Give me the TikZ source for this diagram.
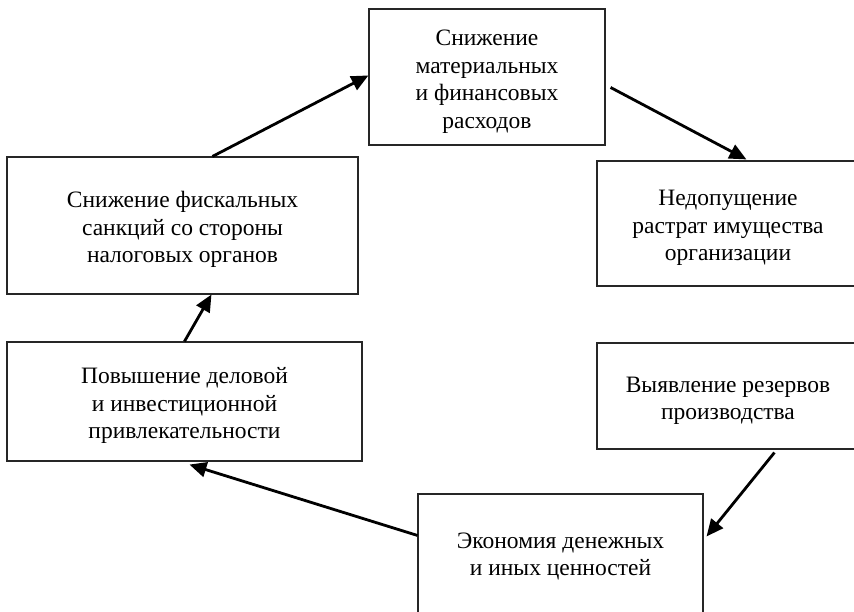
\documentclass[tikz,border=0pt]{standalone}
\usepackage{fontspec}
\setmainfont{Liberation Serif}
\usetikzlibrary{arrows.meta}
\newcommand{\topstrut}{\rule{0pt}{25pt}}
\tikzset{
  box/.style={draw=black!85, line width=1.1pt, rectangle, align=center,
    inner sep=0pt, font=\fontsize{23.5}{27.5}\selectfont},
  conn/.style={line width=2.8pt, -{Triangle[length=17pt,width=15pt]}}
}
\begin{document}
\begin{tikzpicture}[x=1pt,y=-1pt]
\clip (0,0) rectangle (854,612);
\fill[white] (0,0) rectangle (854,612);
\node[box, minimum width=236pt, minimum height=136pt] (b1) at (487,77)
  {\topstrut Снижение\\материальных\\и финансовых\\расходов};
\node[box, minimum width=262pt, minimum height=125pt] (b2) at (728,223.5)
  {\topstrut Недопущение\\растрат имущества\\организации};
\node[box, minimum width=262pt, minimum height=106pt] (b3) at (728,396)
  {\topstrut Выявление резервов\\производства};
\node[box, minimum width=285pt, minimum height=120pt] (b4) at (560.5,554)
  {\rule{0pt}{21pt}Экономия денежных\\и иных ценностей};
\node[box, minimum width=355pt, minimum height=119pt] (b5) at (184.5,401.5)
  {\topstrut Повышение деловой\\и инвестиционной\\привлекательности};
\node[box, minimum width=351pt, minimum height=137pt] (b6) at (182.5,225.5)
  {\topstrut Снижение фискальных\\санкций со стороны\\налоговых органов};
\draw[conn] ([xshift=206pt]b6.north west) -- ([yshift=-67pt]b1.north west);
\draw[conn] ([xshift=5pt,yshift=-79pt]b1.north east) -- ([xshift=150pt,yshift=1pt]b2.north west);
\draw[conn] ([xshift=178pt,yshift=-3pt]b3.south west) -- ([xshift=3pt,yshift=-43pt]b4.north east);
\draw[conn] ([yshift=-42pt]b4.north west) -- ([xshift=183pt,yshift=-3pt]b5.south west);
\draw[conn] ([xshift=178pt]b5.north west) -- ([xshift=205pt]b6.south west);
\end{tikzpicture}
\end{document}
